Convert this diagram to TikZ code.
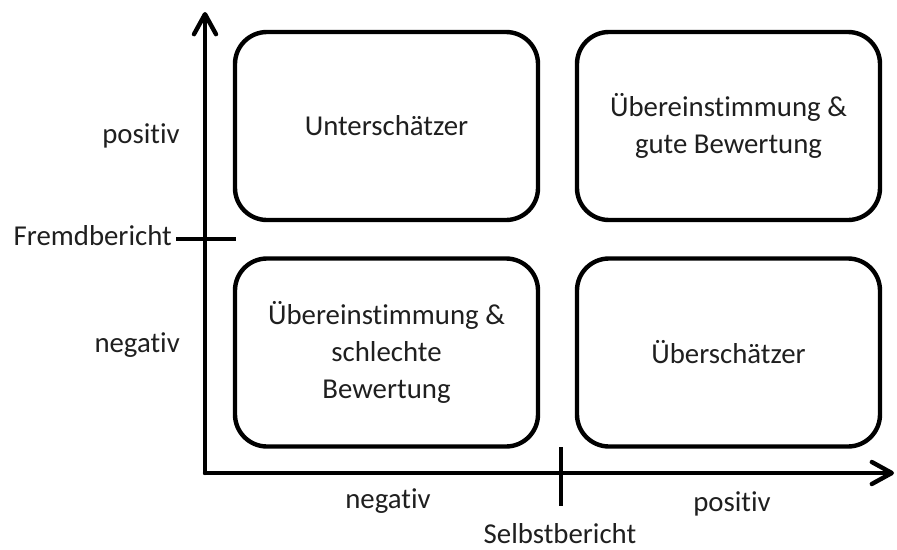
\documentclass[tikz,border=0pt]{standalone}
\usepackage{fontspec}
\setmainfont[Ligatures={NoCommon}]{Carlito}
\usetikzlibrary{arrows.meta}

\begin{document}
\begin{tikzpicture}[x=1pt,y=-1pt,
  font=\fontsize{28.8}{37}\selectfont,
  axis/.style={line width=4.4pt, line cap=round,
    -{Straight Barb[length=20pt,width=22pt,line cap=round,line join=round]}},
  tickline/.style={line width=4.4pt},
  quadrant/.style={draw, line width=4.4pt, rounded corners=32pt,
    minimum width=303pt, minimum height=188pt, inner sep=0pt,
    align=center, text=black!88},
  lbl/.style={text=black!88, inner sep=0pt}]
  \useasboundingbox (0,0) rectangle (897,549);

  % axes
  \coordinate (origin) at (205,473);
  \coordinate (ytip) at (205,12);
  \coordinate (xtip) at (894,473);
  \draw[axis] (origin) -- (ytip);
  \draw[axis] (origin) -- (xtip);

  % dividing ticks
  \coordinate (yt1) at (176,239);
  \coordinate (yt2) at (236,239);
  \coordinate (xt1) at (561,447);
  \coordinate (xt2) at (561,506);
  \draw[tickline] (yt1) -- (yt2);
  \draw[tickline] (xt1) -- (xt2);

  % quadrants
  \node[quadrant] (tl) at (386.5,126) {Unterschätzer};
  \node[quadrant] (tr) at (728.5,126) {Übereinstimmung \&\\gute Bewertung};
  \node[quadrant] (bl) at (386.5,352.5) {Übereinstimmung \&\\schlechte\\Bewertung};
  \node[quadrant] (br) at (728.5,352.5) {Überschätzer};

  % axis labels
  \node[lbl, anchor=base east] (ypos) at (180,143) {positiv};
  \node[lbl, anchor=base east] (yneg) at (180,352) {negativ};
  \node[lbl, anchor=base east] (yname) at (172,245) {Fremdbericht};
  \node[lbl, anchor=base] (xneg) at (388,508) {negativ};
  \node[lbl, anchor=base] (xpos) at (732,511) {positiv};
  \node[lbl, anchor=base] (xname) at (560,543) {Selbstbericht};
\end{tikzpicture}
\end{document}
